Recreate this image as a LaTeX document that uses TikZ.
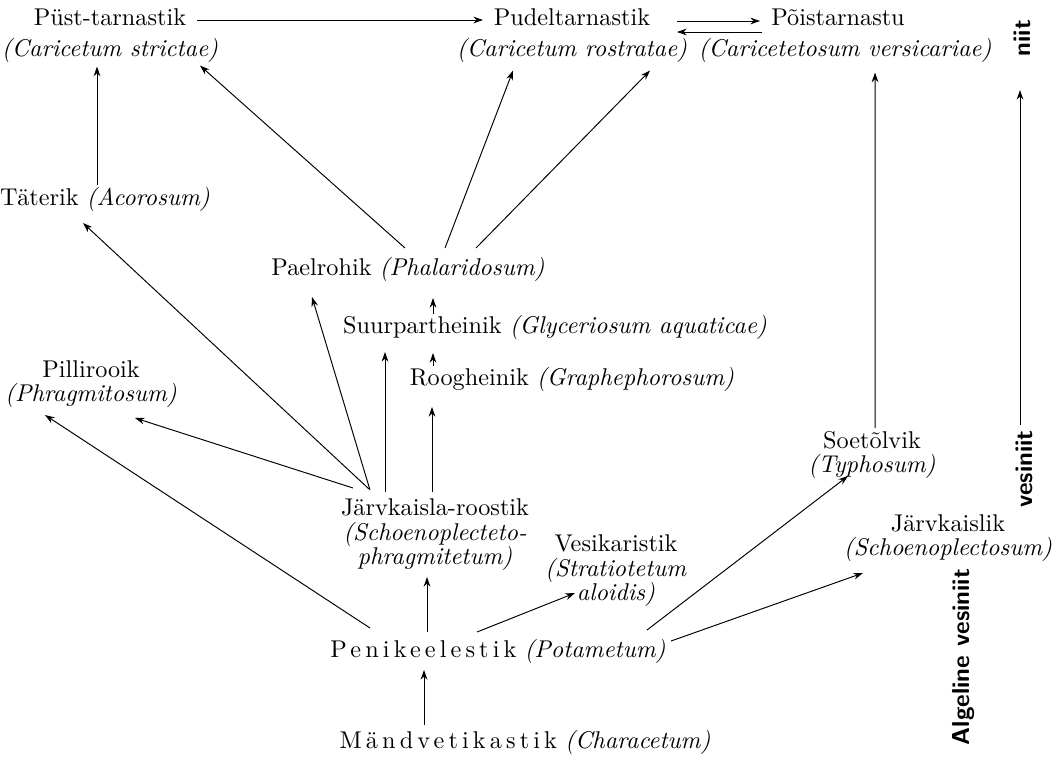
\documentclass[tikz,border=0pt]{standalone}
\usepackage{fontspec}
\setmainfont{lmroman10-regular.otf}[
  BoldFont=lmroman10-bold.otf,
  ItalicFont=lmroman10-italic.otf,
  BoldItalicFont=lmroman10-bolditalic.otf]
\usepackage{tikz}
\usetikzlibrary{arrows.meta, positioning, calc}
\newcommand{\spreadtext}[1]{{\addfontfeature{LetterSpace=17}#1}}
\tikzset{%
  >={Stealth[width=3.8pt,length=5.5pt]},
  % Specifications for style of nodes:
            base/.style = {inner sep=0pt, align=center,
                           font=\fontsize{13.8}{14}\selectfont},
  line/.style = {base, text height=10pt, text depth=3.6pt},
  side/.style = {base, rotate=90, font=\fontsize{14}{15}\selectfont\sffamily\bfseries},
  link/.style = {->, line width=0.55pt},
}

\begin{document}
\begin{tikzpicture}[x=0.02cm, y=-0.02cm]
  \useasboundingbox (0,0) rectangle (1053,758);

  % Specification of nodes (position, etc.)
  \node (onPust)      [line] at (110,20)                      {Püst-tarnastik};
  \node (onPustLat)   [line, below=3.4pt of onPust]           {\textit{(Caricetum strictae)}};
  \node (onPudel)     [line] at (572,20)                      {Pudeltarnastik};
  \node (onPudelLat)  [line, below=3.4pt of onPudel]          {\textit{(Caricetum rostratae)}};
  \node (onPois)      [line] at (838,20)                      {Põistarnastu};
  \node (onPoisLat)   [line, below=3.4pt of onPois, xshift=4pt] {\textit{(Caricetetosum versicariae)}};
  \node (onTaterik)   [line] at (105,200)  {Täterik \textit{(Acorosum)}};
  \node (onPael)      [line] at (408,270)  {Paelrohik \textit{(Phalaridosum)}};
  \node (onSuur)      [line] at (555,328)  {Suurpartheinik \textit{(Glyceriosum aquaticae)}};
  \node (onRoog)      [line] at (572,380)  {Roogheinik \textit{(Graphephorosum)}};
  \node (onPill)      [base] at (91,384)   {Pillirooik\\\textit{(Phragmitosum)}};
  \node (onSoet)      [base] at (872,455)  {Soetõlvik\\\textit{(Typhosum)}};
  \node (onJarvRoo)   [base] at (435,535)  {Järvkaisla-roostik\\\textit{(Schoenoplecteto-}\\\textit{phragmitetum)}};
  \node (onVesik)     [base] at (616,571)  {Vesikaristik\\\textit{(Stratiotetum}\\\textit{aloidis)}};
  \node (onJarvk)     [base] at (948,538)  {Järvkaislik\\\textit{(Schoenoplectosum)}};
  \node (onPen)       [line] at (498,652)  {\spreadtext{Penikeelestik} \textit{(Potametum)}};
  \node (onMand)      [line] at (525,743)  {\spreadtext{Mändvetikastik} \textit{(Characetum)}};
  \node (onNiit)      [side] at (1022,38)  {niit};
  \node (onVesiniit)  [side] at (1024,469) {vesiniit};
  \node (onAlgeline)  [side] at (963,657)  {Algeline vesiniit};

  % Specification of lines between nodes specified above
  \draw[link] ($(onPust)+(87,0)$)        -- ($(onPudel)+(-89,0)$);
  \draw[link] ($(onPudel)+(105,1)$)      -- ($(onPois)+(-78,1)$);
  \draw[link] ($(onPois)+(-76,12)$)      -- ($(onPudel)+(105,12)$);
  \draw[link] ($(onTaterik)+(-8,-15)$)   -- ($(onPustLat)+(-13,16)$);
  \draw[link] ($(onPael)+(-3,-22)$)      -- ($(onPustLat)+(90,15)$);
  \draw[link] ($(onPael)+(37,-22)$)      -- ($(onPudelLat)+(-59,20)$);
  \draw[link] ($(onPael)+(68,-22)$)      -- ($(onPudelLat)+(78,20)$);
  \draw[link] ($(onSoet)+(3,-27)$)       -- ($(onPoisLat)+(30,22)$);
  \draw[link] ($(onVesiniit)+(-4,-44)$)  -- ($(onNiit)+(-2,52)$);
  \draw[link] ($(onSuur)+(-122,-14)$)    -- ($(onPael)+(25,28)$);
  \draw[link] ($(onRoog)+(-139,-14)$)    -- ($(onSuur)+(-122,25)$);
  \draw[link] ($(onJarvRoo)+(-50,-43)$)  -- ($(onSuur)+(-170,24)$);
  \draw[link] ($(onJarvRoo)+(-3,-43)$)   -- ($(onRoog)+(-140,27)$);
  \draw[link] ($(onJarvRoo)+(-65,-45)$)  -- ($(onPael)+(-96,27)$);
  \draw[link] ($(onJarvRoo)+(-66,-46)$)  -- ($(onTaterik)+(-22,23)$);
  \draw[link] ($(onJarvRoo)+(-82,-47)$)  -- ($(onPill)+(44,34)$);
  \draw[link] ($(onPen)+(-128,-24)$)     -- ($(onPill)+(-46,31)$);
  \draw[link] ($(onPen)+(-71,-20)$)      -- ($(onJarvRoo)+(-8,42)$);
  \draw[link] ($(onPen)+(-21,-20)$)      -- ($(onVesik)+(-41,22)$);
  \draw[link] ($(onPen)+(149,-22)$)      -- ($(onSoet)+(-24,21)$);
  \draw[link] ($(onPen)+(173,-11)$)      -- ($(onJarvk)+(-85,35)$);
  \draw[link] ($(onMand)+(-101,-18)$)    -- ($(onPen)+(-74,18)$);
\end{tikzpicture}
\end{document}
